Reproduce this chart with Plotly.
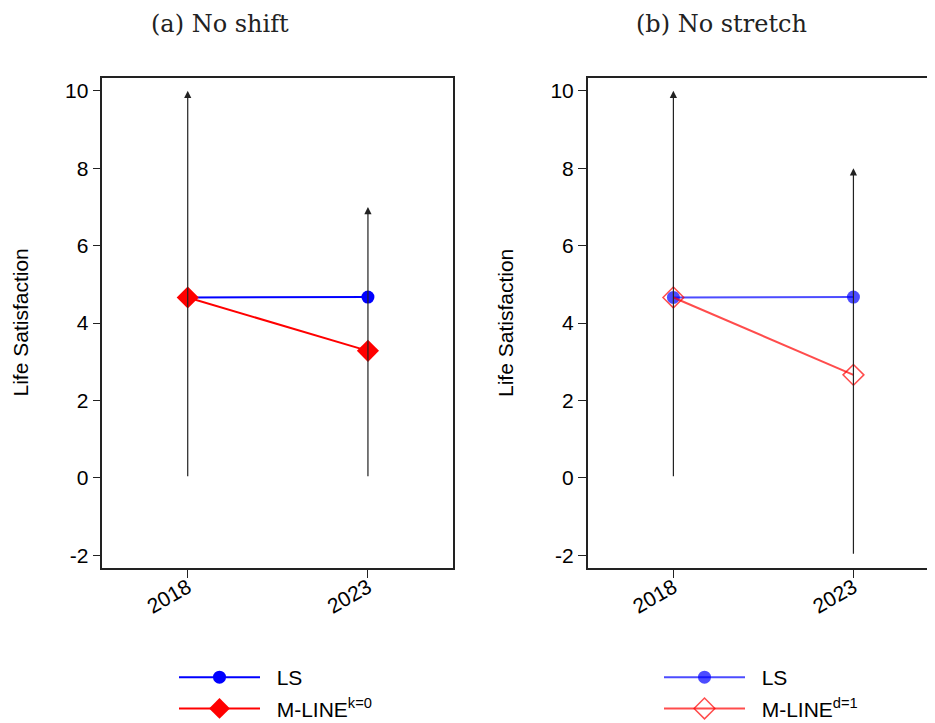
import plotly.graph_objects as go

years = [2018, 2023]
year_labels = ["2018", "2023"]
ls_a = [4.66, 4.67]
mline_a = [4.66, 3.28]
ls_b = [4.66, 4.67]
mline_b = [4.66, 2.66]
span_a_low = [0, 0]
span_a_high = [10, 7]
span_b_low = [0, -2]
span_b_high = [10, 8]
y_ticks = [-2, 0, 2, 4, 6, 8, 10]
y_tick_labels = ["-2", "0", "2", "4", "6", "8", "10"]
titles = ["(a) No shift", "(b) No stretch"]
y_title = "Life Satisfaction"

W, H = 935, 723
OFF = 8  # page body margin offset
NB = "\u00a0\u00a0"
fig = go.Figure()

# Panel a
fig.add_trace(go.Scatter(x=years, y=ls_a, mode="lines+markers", name=NB + "LS",
                         line=dict(color="#0000ff", width=2),
                         marker=dict(symbol="circle", size=13, color="#0000ff"),
                         xaxis="x", yaxis="y", legend="legend", legendgroup="a1"))
fig.add_trace(go.Scatter(x=years, y=mline_a, mode="lines+markers", name=NB + "M-LINE<sup>k=0</sup>",
                         line=dict(color="#ff0000", width=2),
                         marker=dict(symbol="diamond", size=17, color="#ff0000"),
                         xaxis="x", yaxis="y", legend="legend", legendgroup="a2"))
# Panel b
fig.add_trace(go.Scatter(x=years, y=ls_b, mode="lines+markers", name=NB + "LS",
                         line=dict(color="rgba(0,0,255,0.7)", width=2),
                         marker=dict(symbol="circle", size=13, color="rgba(0,0,255,0.7)"),
                         xaxis="x2", yaxis="y2", legend="legend2", legendgroup="b1"))
fig.add_trace(go.Scatter(x=years, y=mline_b, mode="lines+markers", name=NB + "M-LINE<sup>d=1</sup>",
                         line=dict(color="rgba(255,0,0,0.7)", width=2),
                         marker=dict(symbol="diamond-open", size=16, color="rgba(255,0,0,0.7)",
                                     line=dict(width=1.5)),
                         xaxis="x2", yaxis="y2", legend="legend2", legendgroup="b2"))

annotations = []
for xr, yr, lows, highs in [("x", "y", span_a_low, span_a_high), ("x2", "y2", span_b_low, span_b_high)]:
    for yr_i, lo, hi in zip(years, lows, highs):
        annotations.append(dict(x=yr_i, y=hi, ax=yr_i, ay=lo, xref=xr, yref=yr, axref=xr, ayref=yr,
                                showarrow=True, arrowhead=2, arrowsize=1.2, arrowwidth=1.2,
                                arrowcolor="#222222", text=""))

title_font = dict(family="DejaVu Serif", size=24, color="#222")
for cx, t in zip([219.5, 721], titles):
    annotations.append(dict(x=(cx - OFF) / W, y=1.0, xref="paper", yref="paper", text=t,
                            showarrow=False, font=title_font, xanchor="center", yanchor="top"))

axis_font = dict(family="Liberation Sans", size=21, color="black")
for cx in [19.5, 505]:
    annotations.append(dict(x=(cx - OFF) / W, y=1 - (323 - OFF) / H, xref="paper", yref="paper",
                            text=y_title, showarrow=False, font=axis_font, textangle=-90,
                            xanchor="center", yanchor="middle"))

ydom = [(H - (568.3 - OFF)) / H, (H - (77.7 - OFF)) / H]
common_y = dict(range=[-2.34, 10.34], tickvals=y_ticks, ticktext=y_tick_labels, ticks="outside",
                ticklen=8, tickwidth=1, tickcolor="#222", showgrid=False, zeroline=False,
                showline=True, linecolor="#222", linewidth=1.5, tickfont=axis_font, domain=ydom,
                automargin=False)
common_x = dict(tickvals=years, ticktext=year_labels, ticks="outside", ticklen=8, tickwidth=1,
                tickcolor="#222", showgrid=False, zeroline=False, showline=True, linecolor="#222",
                linewidth=1.5, tickfont=axis_font, tickangle=-30, automargin=False,
                ticklabelstandoff=-11)

leg_common = dict(xanchor="left", yanchor="top", traceorder="grouped", tracegroupgap=1,
                  itemwidth=81, font=axis_font, bgcolor="rgba(0,0,0,0)")

fig.update_layout(
    width=W, height=H,
    margin=dict(l=0, r=0, t=0, b=0, autoexpand=False),
    paper_bgcolor="white", plot_bgcolor="white",
    xaxis=dict(common_x, domain=[(102.3 - OFF) / W, (453 - OFF) / W], range=[2015.63, 2025.36],
               anchor="y", mirror=True),
    yaxis=dict(common_y, anchor="x", mirror=True),
    xaxis2=dict(common_x, domain=[(587.7 - OFF) / W, (938.4 - OFF) / W], range=[2015.62, 2025.36],
                anchor="y2", mirror=True),
    yaxis2=dict(common_y, anchor="x2", mirror=False),
    annotations=annotations,
    legend=dict(leg_common, x=166 / W, y=1 - 649 / H),
    legend2=dict(leg_common, x=651 / W, y=1 - 649 / H),
    showlegend=True,
)

fig.write_html("out.html")
